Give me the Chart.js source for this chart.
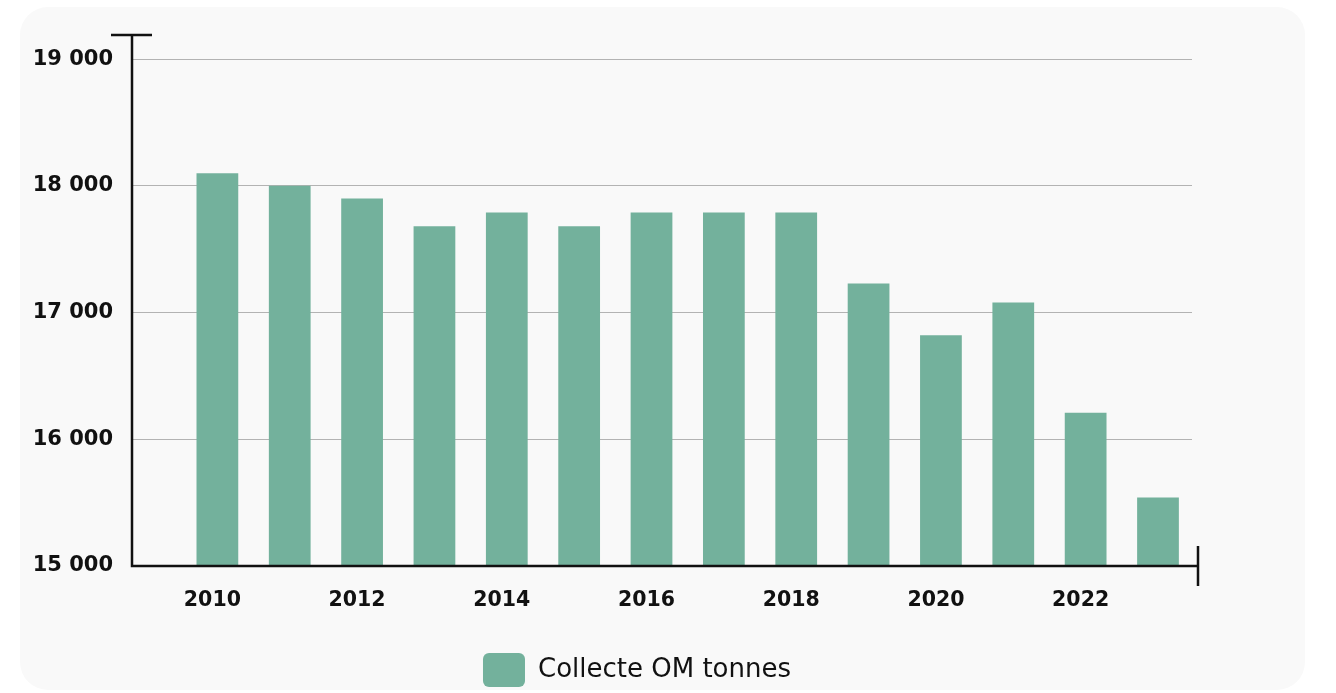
<!DOCTYPE html>
<html>
<head>
<meta charset="utf-8">
<script src="https://cdn.jsdelivr.net/npm/chart.js@4.4.1/dist/chart.umd.min.js"></script>
<style>
html, body { margin: 0; padding: 0; background: #fff; }
#card { position: absolute; left: 20px; top: 7px; width: 1285px; height: 683px; background: #f9f9f9; border-radius: 28px; }
#wrap { position: absolute; left: 0; top: 0; width: 1336px; height: 693px; }
</style>
</head>
<body>
<div id="card"></div>
<div id="wrap"><canvas id="myChart"></canvas></div>
<script>
let years = [2010, 2011, 2012, 2013, 2014, 2015, 2016, 2017, 2018, 2019, 2020, 2021, 2022, 2023];
let tonnes = [18100, 18000, 17900, 17680, 17790, 17680, 17790, 17790, 17790, 17230, 16820, 17080, 16210, 15540];
let xTicks = [2010, 2012, 2014, 2016, 2018, 2020, 2022];
let yTicks = [15000, 16000, 17000, 18000, 19000];
let seriesLabel = 'Collecte OM tonnes';

function spaced(v) {
    return String(v).replace(/\B(?=(\d{3})+(?!\d))/g, ' ');
}

// black axis lines with the little caps at the ends
const axisLines = {
    id: 'axisLines',
    afterLayout(chart) {
        // legend sits a bit right of the plot centre
        chart.legend.left += 41;
        chart.legend.right += 41;
    },
    afterDraw(chart) {
        const {ctx, chartArea: a} = chart;
        ctx.save();
        ctx.strokeStyle = '#111';
        ctx.lineWidth = 2.5;
        ctx.beginPath();
        ctx.moveTo(a.left - 21, a.top);
        ctx.lineTo(a.left + 20, a.top);
        ctx.moveTo(a.left, a.top);
        ctx.lineTo(a.left, a.bottom);
        ctx.lineTo(a.right + 6, a.bottom);
        ctx.moveTo(a.right + 6, a.bottom - 20);
        ctx.lineTo(a.right + 6, a.bottom + 20);
        ctx.stroke();
        ctx.restore();
    }
};

let myChart = document.getElementById('myChart').getContext('2d');
let omChart = new Chart(myChart, {
    type: 'bar',
    data: {
        datasets: [{
            label: seriesLabel,
            data: years.map((y, i) => ({x: y, y: tonnes[i]})),
            backgroundColor: '#73b19c',
            borderWidth: 0,
            borderRadius: 0,
            categoryPercentage: 1,
            barPercentage: 0.577
        }]
    },
    options: {
        responsive: true,
        maintainAspectRatio: false,
        animation: false,
        layout: { padding: { left: 0, right: 144, top: 35, bottom: -4 } },
        scales: {
            x: {
                type: 'linear',
                offset: false,
                min: 2008.82,
                max: 2023.47,
                afterBuildTicks: (axis) => { axis.ticks = xTicks.map(v => ({value: v})); },
                afterFit: (axis) => { axis.height = 77; },
                grid: { display: false, drawTicks: false },
                border: { display: false },
                ticks: {
                    padding: 22,
                    labelOffset: -5,
                    color: '#111',
                    font: { family: 'DejaVu Sans', size: 20.5, weight: 'bold' },
                    callback: (v) => String(v)
                }
            },
            y: {
                min: 15000,
                max: 19190,
                afterBuildTicks: (axis) => { axis.ticks = yTicks.map(v => ({value: v})); },
                afterFit: (axis) => { axis.width = 132; },
                grid: { color: '#b3b3b3', lineWidth: 1, drawTicks: false },
                border: { display: false },
                ticks: {
                    padding: 19,
                    color: '#111',
                    font: { family: 'DejaVu Sans', size: 21, weight: 'bold' },
                    callback: (v) => spaced(v)
                }
            }
        },
        plugins: {
            legend: {
                position: 'bottom',
                labels: {
                    boxWidth: 42,
                    boxHeight: 34,
                    padding: 10,
                    useBorderRadius: true,
                    borderRadius: 6,
                    color: '#111',
                    font: { family: 'DejaVu Sans', size: 26 }
                }
            },
            tooltip: { enabled: false }
        }
    },
    plugins: [axisLines]
});
</script>
</body>
</html>
